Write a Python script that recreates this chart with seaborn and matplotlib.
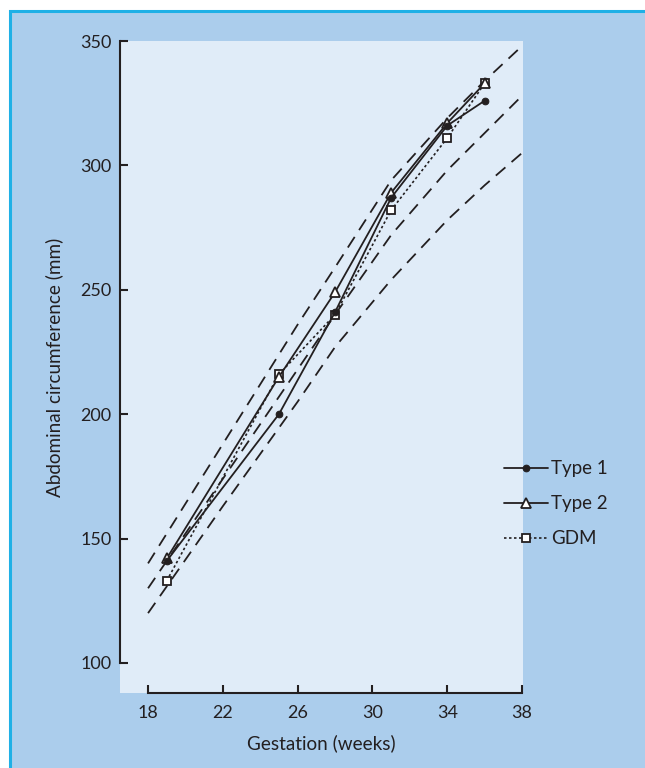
import matplotlib
matplotlib.use("Agg")
import matplotlib.pyplot as plt
from matplotlib.patches import Rectangle
import seaborn as sns
import numpy as np

# measured points (gestation weeks vs abdominal circumference, mm)
weeks = [19, 25, 28, 31, 34, 36]
type1 = [141, 200, 241, 287, 316, 326]
type2 = [142, 215, 249, 289, 317, 333]
gdm = [133, 216, 240, 282, 311, 333]

# reference centile curves (dashed)
ref_weeks = [18, 22, 26, 28, 31, 34, 36, 38]
ref_upper = [140, 188, 236, 259, 294, 319, 334, 348]
ref_middle = [130, 174, 218, 240, 272, 298, 313, 328]
ref_lower = [120, 163, 205, 227, 254, 278, 292, 305]

x_ticks = [18, 22, 26, 30, 34, 38]
y_ticks = [100, 150, 200, 250, 300, 350]

ink = "#231f20"
outer_bg = "#abcdec"
inner_bg = "#e0ecf8"
frame = "#1fb0e6"

sns.set_theme(style="white")
plt.rcParams["font.family"] = ["Lato", "DejaVu Sans"]

fig = plt.figure(figsize=(6.45, 7.68), dpi=100)
fig.patch.set_facecolor("white")
fig.patches.append(Rectangle((9.5 / 645, -0.1), 1.2, 1.1 - 11.5 / 768,
                             transform=fig.transFigure, facecolor=outer_bg,
                             edgecolor=frame, linewidth=2.2, zorder=-5))

ax = fig.add_axes([120 / 645, 75 / 768, 403 / 645, 652 / 768])
ax.set_facecolor(inner_bg)

dash_style = dict(color=ink, linewidth=1.3, dashes=(7, 4.5))
for ref in (ref_upper, ref_middle, ref_lower):
    sns.lineplot(x=ref_weeks, y=ref, ax=ax, **dash_style)

# GDM underneath, then type 2, type 1 on top (as in the original overlaps)
sns.lineplot(x=weeks, y=gdm, ax=ax, color=ink, linewidth=1.2, marker="s",
             markersize=5.5, markerfacecolor="white", markeredgecolor=ink,
             markeredgewidth=1.3, dashes=(1.5, 1.5), label="GDM")
sns.lineplot(x=weeks, y=type2, ax=ax, color=ink, linewidth=1.3, marker="^",
             markersize=7, markerfacecolor="white", markeredgecolor=ink,
             markeredgewidth=1.3, label="Type 2")
sns.lineplot(x=weeks, y=type1, ax=ax, color=ink, linewidth=1.3, marker="o",
             markersize=4.8, markerfacecolor=ink, markeredgecolor=ink,
             label="Type 1")

ax.set_xlim(16.5, 38.05)
ax.set_ylim(87.9, 350)
ax.set_xticks(x_ticks)
ax.set_yticks(y_ticks)

for side in ("top", "right"):
    ax.spines[side].set_visible(False)
ax.spines["left"].set_bounds(100, 350)
ax.spines["bottom"].set_bounds(18, 38)
for side in ("left", "bottom"):
    ax.spines[side].set_color(ink)
    ax.spines[side].set_linewidth(1.5)

ax.tick_params(axis="both", direction="in", length=6, width=1.5, color=ink,
               labelsize=13, labelcolor=ink, pad=6, bottom=True, left=True)
ax.tick_params(axis="x", pad=9)

ax.set_xlabel("Gestation (weeks)", fontsize=13.6, color=ink, labelpad=9)
ax.set_ylabel("Abdominal circumference (mm)", fontsize=13.6, color=ink, labelpad=12)

handles, labels = ax.get_legend_handles_labels()
order = [labels.index(name) for name in ("Type 1", "Type 2", "GDM")]
ax.legend([handles[i] for i in order], [labels[i] for i in order],
          loc="center left", bbox_to_anchor=(0.91, 0.29), frameon=False,
          fontsize=13.5, handlelength=2.35, handletextpad=0.2, labelspacing=0.96,
          labelcolor=ink)

fig.savefig("out.png", dpi=100, facecolor=fig.get_facecolor())
